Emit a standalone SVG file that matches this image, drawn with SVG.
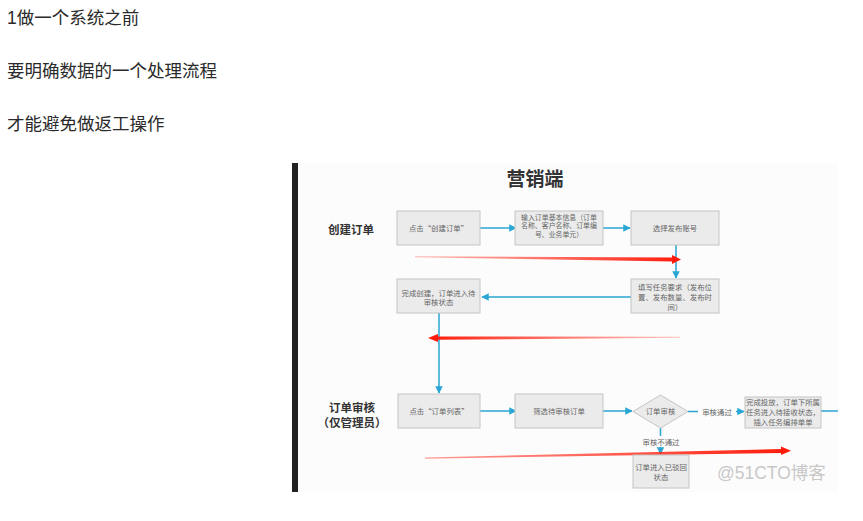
<svg xmlns="http://www.w3.org/2000/svg" width="863" height="521" viewBox="0 0 863 521">
<style>
.intro{font-family:"Liberation Sans","Noto Sans CJK SC",sans-serif;font-size:17.5px;fill:#2a2a2a}
.box{fill:#ebebeb;stroke:#c4c4c4;stroke-width:1}
.bt{font-family:"Noto Sans CJK SC",sans-serif;font-size:7.4px;fill:#666;text-anchor:middle}
.bs{font-family:"Noto Sans CJK SC",sans-serif;font-size:6.9px;fill:#666;text-anchor:middle}
.lbl{font-family:"Noto Sans CJK SC",sans-serif;font-size:11.5px;font-weight:bold;fill:#333;text-anchor:middle}
.ttl{font-family:"Noto Sans CJK SC",sans-serif;font-size:19px;font-weight:bold;fill:#333;text-anchor:middle}
.blue{stroke:#2aa6d4;stroke-width:1.5;fill:none}
.wm{font-family:"Liberation Sans","Noto Sans CJK SC",sans-serif;font-size:17.5px;fill:#c8c8c8}
</style>
<defs>
<marker id="ah" viewBox="0 0 10 10" refX="9" refY="5" markerWidth="5" markerHeight="5" orient="auto">
<path d="M0,0 L10,5 L0,10 z" fill="#2aa6d4"/>
</marker>
<linearGradient id="g1" gradientUnits="userSpaceOnUse" x1="415" y1="0" x2="680" y2="0">
<stop offset="0" stop-color="#ff3b2a" stop-opacity="0.35"/>
<stop offset="1" stop-color="#ff1a0a"/>
</linearGradient>
<linearGradient id="g2" gradientUnits="userSpaceOnUse" x1="428" y1="0" x2="680" y2="0">
<stop offset="0" stop-color="#ff1a0a"/>
<stop offset="1" stop-color="#ff3b2a" stop-opacity="0.3"/>
</linearGradient>
<linearGradient id="g3" gradientUnits="userSpaceOnUse" x1="425" y1="0" x2="790" y2="0">
<stop offset="0" stop-color="#ff3b2a" stop-opacity="0.5"/>
<stop offset="1" stop-color="#ff1a0a"/>
</linearGradient>
</defs>
<rect width="863" height="521" fill="#fff"/>
<text class="intro" x="7" y="23.5">1做一个系统之前</text>
<text class="intro" x="7" y="76.5">要明确数据的一个处理流程</text>
<text class="intro" x="7" y="129.5">才能避免做返工操作</text>

<rect x="298" y="163" width="540" height="329" fill="#fcfcfc"/>
<rect x="292" y="163" width="6" height="329" fill="#222"/>
<text class="ttl" x="535" y="186">营销端</text>
<text class="lbl" x="351" y="234">创建订单</text>
<text class="lbl" x="352" y="412">订单审核</text>
<text class="lbl" x="352" y="427">（仅管理员）</text>

<g id="connectors">
<line class="blue" x1="480" y1="228" x2="516" y2="228" marker-end="url(#ah)"/>
<line class="blue" x1="603" y1="228" x2="630" y2="228" marker-end="url(#ah)"/>
<line class="blue" x1="676" y1="245" x2="676" y2="278" marker-end="url(#ah)"/>
<line class="blue" x1="631" y1="297" x2="482" y2="297" marker-end="url(#ah)"/>
<line class="blue" x1="439" y1="313" x2="439" y2="393" marker-end="url(#ah)"/>
<line class="blue" x1="480" y1="411" x2="516" y2="411" marker-end="url(#ah)"/>
<line class="blue" x1="603" y1="411" x2="632" y2="411" marker-end="url(#ah)"/>
<line class="blue" x1="688" y1="411.5" x2="698" y2="411.5"/>
<line class="blue" x1="736" y1="411.5" x2="744" y2="411.5" marker-end="url(#ah)"/>
<line class="blue" x1="821" y1="411" x2="838" y2="411"/>
<line class="blue" x1="660.5" y1="428" x2="660.5" y2="436"/>
<line class="blue" x1="660.5" y1="447" x2="660.5" y2="454" marker-end="url(#ah)"/>
<text class="bt" x="717" y="414.5">审核通过</text>
<text class="bt" x="661" y="445">审核不通过</text>
<polygon points="415,256.3 673,257.5 673,261.5 415,257.3" fill="url(#g1)"/>
<polygon points="672,255 681,259.5 672,264" fill="#ff1a0a"/>
<polygon points="437,336.5 680,336.8 680,337.8 437,339.8" fill="url(#g2)"/>
<polygon points="438,334 428,338 438,342" fill="#ff1a0a"/>
<polygon points="425,457.5 782,449 782,453 425,458.7" fill="url(#g3)"/>
<polygon points="781,446.5 791,450.7 781,455" fill="#ff1a0a"/>
</g>

<g id="n1"><rect class="box" x="397" y="211" width="83" height="34"/><text class="bt" x="438.5" y="230.5">点击“创建订单”</text></g>
<g id="n2"><rect class="box" x="515" y="211" width="88" height="34"/>
<text class="bs" x="559" y="219.5">输入订单基本信息（订单</text>
<text class="bs" x="559" y="228">名称、客户名称、订单编</text>
<text class="bs" x="559" y="236.5">号、业务单元）</text></g>
<g id="n3"><rect class="box" x="631" y="211" width="88" height="34"/><text class="bt" x="675" y="230.5">选择发布账号</text></g>
<g id="n4"><rect class="box" x="631" y="279" width="88" height="34"/>
<text class="bt" x="675" y="289.5">填写任务要求（发布位</text>
<text class="bt" x="675" y="299.5">置、发布数量、发布时</text>
<text class="bt" x="675" y="309.5">间）</text></g>
<g id="n5"><rect class="box" x="397" y="279" width="83" height="34"/>
<text class="bt" x="438.5" y="295.5">完成创建，订单进入待</text>
<text class="bt" x="438.5" y="305">审核状态</text></g>
<g id="n6"><rect class="box" x="398" y="394" width="82" height="34"/><text class="bt" x="439" y="413.5">点击“订单列表”</text></g>
<g id="n7"><rect class="box" x="515" y="394" width="88" height="34"/><text class="bt" x="559" y="413.5">筛选待审核订单</text></g>
<g id="n8"><polygon points="660.5,395 688,411.5 660.5,428 633,411.5" fill="#ebebeb" stroke="#c4c4c4"/><text class="bt" x="660.5" y="414">订单审核</text></g>
<g id="n9"><rect class="box" x="745" y="397" width="76" height="31"/>
<text class="bt" x="783" y="404.5">完成投放，订单下所属</text>
<text class="bt" x="783" y="414.5">任务进入待接收状态，</text>
<text class="bt" x="783" y="424.5">插入任务编排单单</text></g>
<g id="n10"><rect class="box" x="633" y="455" width="56" height="33"/>
<text class="bt" x="661" y="469.5">订单进入已驳回</text>
<text class="bt" x="661" y="479.5">状态</text></g>
<text class="wm" x="717" y="479">@51CTO博客</text>
</svg>
